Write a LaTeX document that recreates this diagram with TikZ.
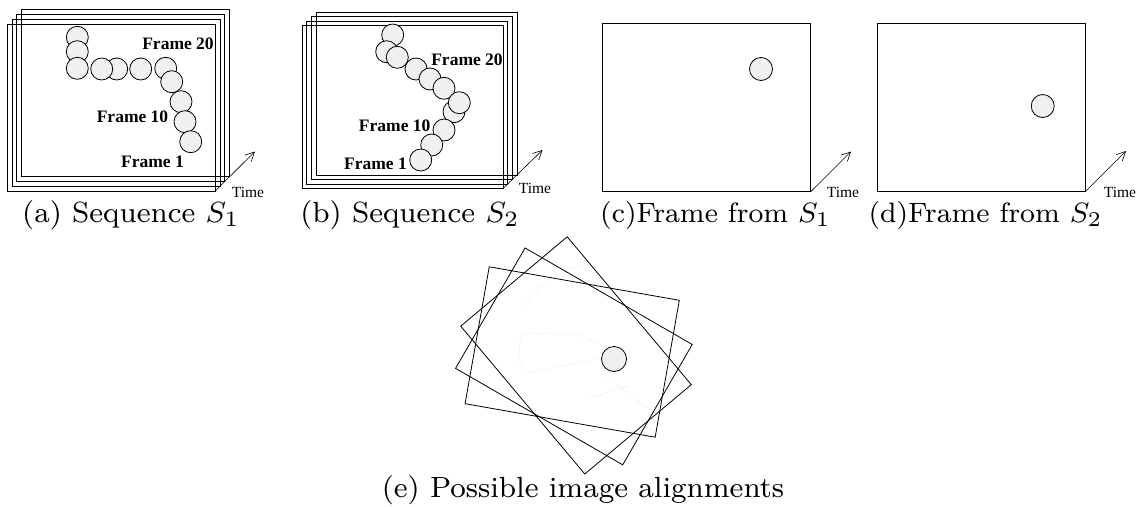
\documentclass[tikz,border=0pt]{standalone}
\usepackage{fontspec}
\usepackage{graphicx}
\newfontfamily\tnr{Liberation Serif}
\usetikzlibrary{arrows.meta}
\definecolor{ballgray}{gray}{0.94}
\newcommand\capt[2][3.65]{\scalebox{#1}{\fontsize{8}{9}\selectfont #2}}
\tikzset{
 frame/.style={draw, line width=0.8pt, inner sep=0, outer sep=0},
 ball/.style={circle, draw, line width=0.8pt, fill=ballgray, minimum size=22, inner sep=0},
 flabel/.style={font=\tnr\bfseries\fontsize{17.5}{18}\selectfont, inner sep=0},
 timelabel/.style={font=\tnr\fontsize{15.5}{16}\selectfont, inner sep=0},
 timearrow/.style={-{Straight Barb[length=9pt,width=9pt]}, line width=0.6pt},
 captionnode/.style={anchor=base, inner sep=0},
 faint/.style={draw=black!10, dotted, line width=0.9pt},
}
\begin{document}
\begin{tikzpicture}[x=1pt,y=-1pt]
\useasboundingbox (0,0) rectangle (1140,506);
% (a)
\foreach \k in {3,2,1,0}{
  \node[frame, minimum width=208, minimum height=167] (fa\k) at ({111.2+4.8*\k},{107.5-4.8*\k}) {};
}
\foreach \x/\y [count=\i] in {77.3/37.3,77.3/51.7,77.3/68.3,116.7/69,101.7/69,140.7/69,165.7/68.3,171.7/81.7,181/101.7,185/121.7,190.7/141.7}{
  \node[ball] (ba\i) at (\x,\y) {};
}
\node[flabel] (la20) at (178,43.5) {Frame 20};
\node[flabel] (la10) at (132.5,117) {Frame 10};
\node[flabel] (la1) at (152.5,162) {Frame 1};
\coordinate (ta) at (255,151.5);
\draw[timearrow] (fa0.south east) -- (ta);
\node[timelabel] (tia) at (248,192.5) {Time};
\node[captionnode] (ca) at (131,222.5) {\capt{(a) Sequence $S_1$}};
% (b)
\foreach \k in {3,2,1,0}{
  \node[frame, minimum width=201, minimum height=163] (fb\k) at ({402.7+4.6*\k},{106.8-4.4*\k}) {};
}
\foreach \x/\y [count=\i] in {392.7/35,386.7/51.7,397.3/57.3,416/69,430/79,444/88.3,454/111.7,459.3/102.7,444/130,431.7/145,420.7/160}{
  \node[ball] (bb\i) at (\x,\y) {};
}
\node[flabel] (lb20) at (467,60) {Frame 20};
\node[flabel] (lb10) at (394.7,126) {Frame 10};
\node[flabel] (lb1) at (375.5,164) {Frame 1};
\coordinate (tb) at (542.5,150);
\draw[timearrow] (fb0.south east) -- (tb);
\node[timelabel] (tib) at (535,188.5) {Time};
\node[captionnode] (cb) at (410,222.5) {\capt{(b) Sequence $S_2$}};
% (c)
\node[frame, minimum width=208, minimum height=168.4] (fc) at (706.7,107.5) {};
\node[ball, minimum size=23] (bc) at (761,69) {};
\coordinate (tc) at (851,151.5);
\draw[timearrow] (fc.south east) -- (tc);
\node[timelabel] (tic) at (843,192.5) {Time};
\node[captionnode] (cc) at (715.5,222.5) {\capt[3.5]{(c)Frame from $S_1$}};
% (d)
\node[frame, minimum width=207.6, minimum height=168.4] (fd) at (981.5,107.5) {};
\node[ball, minimum size=23] (bd) at (1042.7,106) {};
\coordinate (td) at (1126,151);
\draw[timearrow] (fd.south east) -- (td);
\node[timelabel] (tid) at (1120,192.5) {Time};
\node[captionnode] (cd) at (985.5,222.5) {\capt[3.5]{(d)Frame from $S_2$}};
% (e)
\draw[faint] (601,358) -- (530,372) to[out=180,in=270] (519,356) -- (520,340) to[out=90,in=180] (533,333) -- (580,335) -- (598,344);
\draw[faint] (526,306) to[out=60,in=200] (583,264);
\draw[faint] (607,377) -- (650,410);
\draw[faint] (590,398) -- (628,386);
\node[frame, minimum width=193, minimum height=139, rotate=-10] (re1) at (572.2,352) {};
\node[frame, minimum width=193, minimum height=139, rotate=-30] (re2) at (573.9,356.4) {};
\node[frame, minimum width=193, minimum height=139, rotate=-50] (re3) at (576,355.4) {};
\node[ball, minimum size=25] (be) at (614,359) {};
\node[captionnode] (ce) at (583,497.5) {\capt{(e) Possible image alignments}};
\end{tikzpicture}
\end{document}
